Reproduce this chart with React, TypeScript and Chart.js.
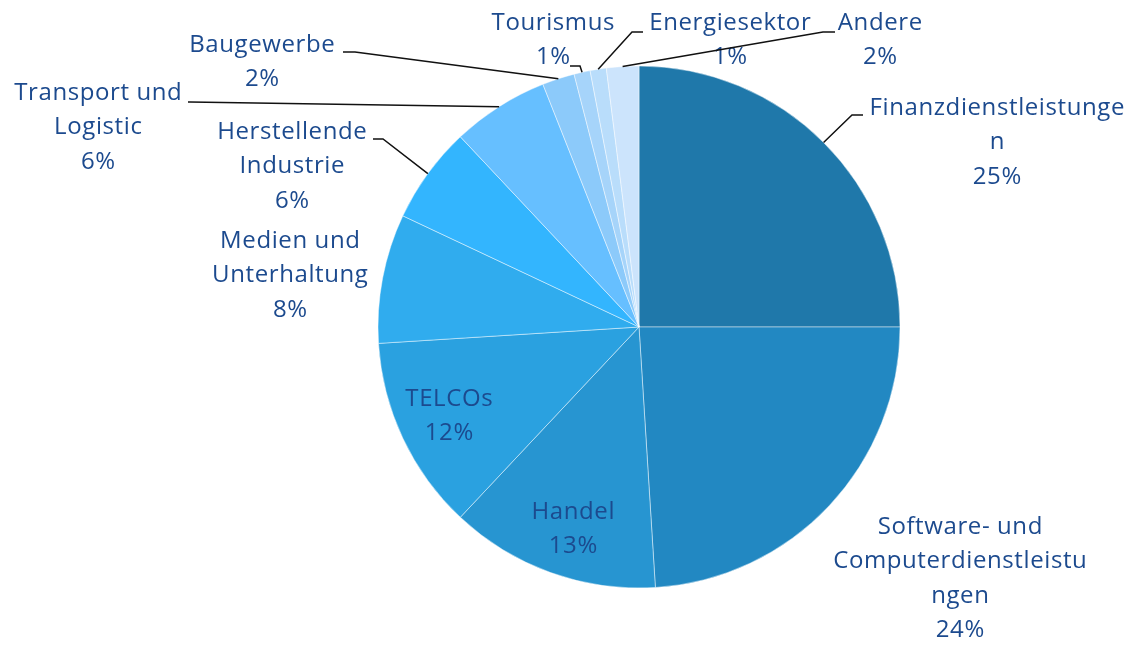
import React, { useEffect, useRef } from "react";
import { Chart, registerables } from "chart.js";

Chart.register(...registerables);

const categories = [
  "Finanzdienstleistungen",
  "Software- und Computerdienstleistungen",
  "Handel",
  "TELCOs",
  "Medien und Unterhaltung",
  "Herstellende Industrie",
  "Transport und Logistic",
  "Baugewerbe",
  "Tourismus",
  "Energiesektor",
  "Andere",
];

const shares = [25, 24, 13, 12, 8, 6, 6, 2, 1, 1, 2];

const labelLines = [
  ["Finanzdienstleistunge", "n"],
  ["Software- und", "Computerdienstleistu", "ngen"],
  ["Handel"],
  ["TELCOs"],
  ["Medien und", "Unterhaltung"],
  ["Herstellende", "Industrie"],
  ["Transport und", "Logistic"],
  ["Baugewerbe"],
  ["Tourismus"],
  ["Energiesektor"],
  ["Andere"],
];

const sliceColors = [
  "#1F78AA",
  "#2288C2",
  "#2795D1",
  "#2AA1E0",
  "#30ACEE",
  "#33B5FE",
  "#66BFFF",
  "#8CCAFA",
  "#A6D4FA",
  "#B9DDFB",
  "#CCE4FC",
];

// Label layout: first-line centre offset from pie centre (px),
// optional leader: elbow and end offsets from pie centre (px).
type Layout = { dx: number; dy: number; elbow?: [number, number]; end?: [number, number] };
const labelLayout: Layout[] = [
  { dx: 358, dy: -219, elbow: [213, -212], end: [224, -212] },
  { dx: 321, dy: 200 },
  { dx: -66, dy: 185 },
  { dx: -190, dy: 72 },
  { dx: -349, dy: -86 },
  { dx: -347, dy: -195, elbow: [-256, -188], end: [-266, -188] },
  { dx: -541, dy: -234, elbow: [-449, -225], end: [-451, -225] },
  { dx: -377, dy: -282, elbow: [-284, -275], end: [-296, -275] },
  { dx: -86, dy: -304, elbow: [-59, -261], end: [-69, -261] },
  { dx: 91, dy: -304, elbow: [-7, -295], end: [4, -295] },
  { dx: 241, dy: -304, elbow: [184, -295], end: [196, -295] },
];

const TEXT_COLOR = "#1C4A8E";
const FONT = "24px 'Open Sans', Lato, sans-serif";
const LINE_H = 34.5;

const labelPlugin = {
  id: "pieLabels",
  afterDatasetsDraw(chart: any) {
    const meta = chart.getDatasetMeta(0);
    const ctx = chart.ctx as CanvasRenderingContext2D;
    ctx.save();
    meta.data.forEach((arc: any, i: number) => {
      const p = arc.getProps(["x", "y", "startAngle", "endAngle", "outerRadius"], true);
      const mid = (p.startAngle + p.endAngle) / 2;
      const lay = labelLayout[i];
      if (lay.elbow && lay.end) {
        const ax = p.x + p.outerRadius * Math.cos(mid);
        const ay = p.y + p.outerRadius * Math.sin(mid);
        ctx.beginPath();
        ctx.strokeStyle = "#111111";
        ctx.lineWidth = 1.5;
        ctx.moveTo(ax, ay);
        ctx.lineTo(p.x + lay.elbow[0], p.y + lay.elbow[1]);
        ctx.lineTo(p.x + lay.end[0], p.y + lay.end[1]);
        ctx.stroke();
      }
      const lines = [...labelLines[i], `${shares[i]}%`];
      ctx.font = FONT;
      (ctx as any).letterSpacing = "0.6px";
      ctx.fillStyle = TEXT_COLOR;
      ctx.textAlign = "center";
      ctx.textBaseline = "middle";
      lines.forEach((t, k) => {
        ctx.fillText(t, p.x + lay.dx + 0.3, p.y + lay.dy + k * LINE_H);
      });
    });
    ctx.restore();
  },
};

export default function App() {
  const ref = useRef<HTMLCanvasElement | null>(null);
  useEffect(() => {
    if (!ref.current) return;
    const chart = new Chart(ref.current, {
      type: "pie",
      data: {
        labels: categories,
        datasets: [
          {
            data: shares,
            backgroundColor: sliceColors,
            borderColor: "rgba(255,255,255,0.45)",
            borderWidth: 1,
          },
        ],
      },
      options: {
        responsive: false,
        animation: false,
        radius: 261,
        layout: { padding: { left: 378, right: 230, top: 66, bottom: 57 } },
        plugins: {
          legend: { display: false },
          tooltip: { enabled: false },
        },
      },
      plugins: [labelPlugin],
    });
    return () => chart.destroy();
  }, []);
  return (
    <div style={{ position: "fixed", left: 0, top: 0, width: 1130, height: 645, background: "#fff" }}>
      <canvas ref={ref} width={1130} height={645} style={{ width: 1130, height: 645 }} />
    </div>
  );
}
